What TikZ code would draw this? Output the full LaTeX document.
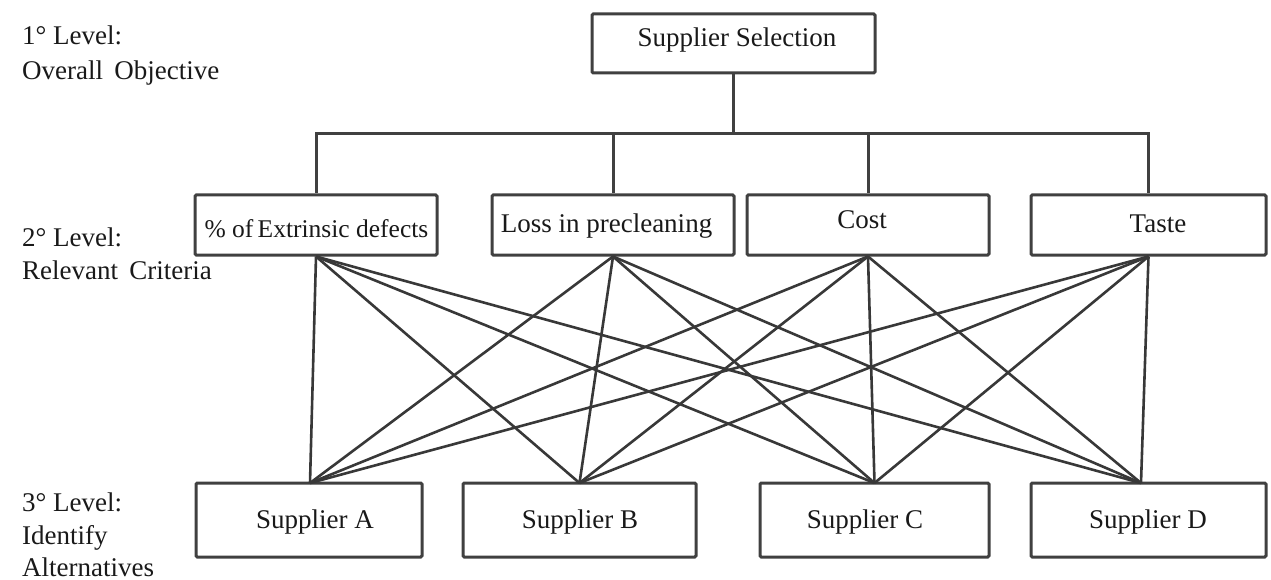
\documentclass[tikz,border=0pt]{standalone}
\usepackage{fontspec}
\setmainfont{Liberation Serif}
\begin{document}
\begin{tikzpicture}[x=1pt,y=-1pt,
  every node/.style={font=\fontsize{27}{32}\selectfont, text=black!90},
  boxnode/.style={draw=black!75, line width=3pt, rounded corners=1.2pt, fill=white, inner sep=0pt},
  txt/.style={anchor=base, inner sep=0pt},
  lbl/.style={anchor=base west, inner sep=0pt},
  conn/.style={draw=black!78, line width=2.6pt},
  tree/.style={draw=black!75, line width=3pt}]
\useasboundingbox (0,0) rectangle (1271,580);

% level labels
\node[lbl] (l1a) at (22,45) {1° Level:};
\node[lbl] (l1b) at (22,80) {Overall\, Objective};
\node[lbl] (l2a) at (22,246) {2° Level:};
\node[lbl] (l2b) at (22,279) {Relevant\, Criteria};
\node[lbl] (l3a) at (22,511) {3° Level:};
\node[lbl] (l3b) at (22,544) {Identify};
\node[lbl] (l3c) at (22,576) {Alternatives};

% boxes
\node[boxnode, minimum width=283pt, minimum height=59pt] (top) at (733.5,43.5) {};
\node[boxnode, minimum width=242pt, minimum height=60pt] (ext) at (316,225) {};
\node[boxnode, minimum width=242pt, minimum height=60pt] (loss) at (613,225) {};
\node[boxnode, minimum width=242pt, minimum height=60pt] (cost) at (868,225) {};
\node[boxnode, minimum width=235pt, minimum height=60pt] (taste) at (1148.5,225) {};
\node[boxnode, minimum width=226pt, minimum height=74pt] (sa) at (309,520) {};
\node[boxnode, minimum width=233pt, minimum height=74pt] (sb) at (579.5,520) {};
\node[boxnode, minimum width=229pt, minimum height=74pt] (sc) at (874.5,520) {};
\node[boxnode, minimum width=235pt, minimum height=74pt] (sd) at (1148.5,520) {};

% texts
\node[txt] (ttop) at (737,47) {Supplier Selection};
\node[txt, font=\fontsize{25.5}{30}\selectfont] (text) at (316.5,237) {\% of\,Extrinsic defects};
\node[txt] (tloss) at (606.5,232) {Loss in precleaning};
\node[txt] (tcost) at (862,229) {Cost};
\node[txt] (ttaste) at (1158,232) {Taste};
\node[txt] (tsa) at (315,528) {Supplier A};
\node[txt] (tsb) at (580,528) {Supplier B};
\node[txt] (tsc) at (865,528) {Supplier C};
\node[txt] (tsd) at (1148,528) {Supplier D};

% tree
\coordinate (bar) at (733.5,134);
\draw[tree] (top.south) -- (bar);
\draw[tree, line cap=rect] (ext.north |- bar) -- (taste.north |- bar);
\draw[tree] (ext.north |- bar) -- (ext.north);
\draw[tree] (loss.north |- bar) -- (loss.north);
\draw[tree] (cost.north |- bar) -- (cost.north);
\draw[tree] (taste.north |- bar) -- (taste.north);

% connectors
\coordinate (pa) at (310,483);
\coordinate (pb) at (579.5,483);
\coordinate (pc) at (874.5,483);
\coordinate (pd) at (1141,483);
\foreach \c in {ext,loss,cost,taste}{
  \foreach \p in {pa,pb,pc,pd}{
    \draw[conn] (\c.south) -- (\p);
  }
}
\end{tikzpicture}
\end{document}
